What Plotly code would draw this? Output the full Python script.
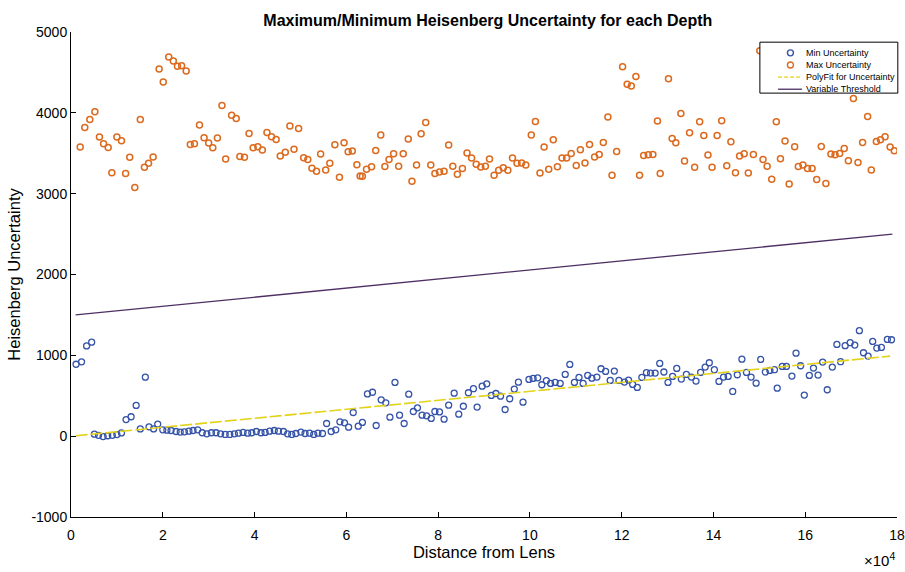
import plotly.graph_objects as go

# Distance from lens, in units of 10^4
min_x = [0.11,0.23,0.34,0.45,0.51,0.6,0.7,0.8,0.9,1.0,1.1,1.2,1.31,1.42,1.51,1.62,1.70,1.8,1.89,
         2.00,2.09,2.18,2.29,2.38,2.47,2.57,2.66,2.76,2.86,2.96,3.06,3.16,3.26,3.36,3.46,3.56,3.65,3.75,3.85,
         3.94,4.04,4.14,4.23,4.33,4.43,4.52,4.63,4.72,4.81,4.9,5.01,5.1,5.2,5.29,5.38,5.48,5.57,5.67,5.77,
         5.86,5.96,6.05,6.15,6.26,
         6.35,6.46,6.57,6.65,6.76,6.86,6.95,7.06,7.16,7.26,7.36,7.46,7.55,7.65,7.75,7.85,7.93,8.03,8.13,8.23,
         8.35,8.45,8.55,8.66,8.77,8.85,8.96,9.06,9.16,9.26,9.36,9.46,9.56,9.66,9.75,9.85,9.98,10.07,10.17,10.26,
         10.36,10.45,10.55,10.66,10.77,10.87,10.97,11.07,11.16,11.26,11.35,11.46,11.55,11.65,11.75,11.84,11.94,
         12.06,12.15,12.24,12.34,12.44,12.54,12.63,12.73,12.83,
         12.92,13.01,13.11,13.2,13.3,13.41,13.52,13.62,13.72,13.82,13.91,14.02,14.12,14.22,14.32,14.42,14.52,
         14.62,14.72,14.82,14.93,15.03,15.13,15.23,15.33,15.39,15.5,15.59,15.71,15.8,15.9,15.98,16.09,16.18,
         16.28,16.38,16.48,16.59,16.69,16.77,16.87,16.98,17.08,17.18,17.27,17.37,17.47,17.56,17.66,17.79,17.88]
min_y = [890,920,1117,1163,25,10,-5,5,10,20,40,205,240,380,90,730,115,90,150,
         79,74,70,58,50,54,62,70,79,42,29,42,42,29,21,21,29,37,46,37,
         42,58,42,46,62,70,62,58,29,21,33,50,33,37,21,37,33,157,58,79,
         178,165,111,293,124,
         170,523,543,132,450,413,235,665,260,157,520,305,351,260,252,219,305,300,210,383,
         532,272,370,537,587,360,619,648,504,528,495,330,463,582,668,421,702,714,722,636,
         686,653,665,653,764,888,665,727,653,752,718,731,834,801,690,805,690,
         669,694,640,603,727,785,781,781,900,
         794,665,739,838,706,764,731,681,789,855,908,822,677,731,739,553,760,
         953,789,731,656,949,793,813,822,594,863,863,743,1027,871,508,752,842,
         756,917,574,855,1135,921,1119,1156,1127,1305,1032,991,1172,1090,1098,1197,1193]

max_x = [0.2,0.3,0.41,0.52,0.62,0.71,0.81,0.89,1.0,1.1,1.19,1.28,1.39,1.51,1.6,1.69,1.79,1.92,2.01,2.13,
         2.23,2.32,2.41,2.51,2.6,2.69,2.8,2.9,3.0,3.09,3.19,3.29,3.37,3.5,3.6,3.68,3.78,3.88,3.97,4.07,
         4.17,4.27,4.37,4.47,4.56,4.67,4.77,4.86,4.96,5.07,5.16,5.25,5.35,5.44,5.55,5.64,5.75,5.85,5.95,6.04,
         6.13,6.23,6.3,
         6.35,6.44,6.55,6.64,6.75,6.84,6.93,7.03,7.14,7.24,7.35,7.43,7.53,7.63,7.73,7.84,7.93,8.03,8.13,8.23,
         8.32,8.42,8.53,8.63,8.73,8.83,8.93,9.03,9.12,9.22,9.32,9.42,9.52,9.62,9.72,9.82,9.91,10.03,10.12,10.22,
         10.31,10.41,10.51,10.6,10.7,10.8,10.9,11.01,11.1,11.2,11.3,11.41,11.51,11.6,11.7,11.79,11.89,12.02,
         12.12,12.21,12.31,12.39,12.48,12.58,12.68,12.78,
         12.84,13.02,13.1,13.18,13.29,13.37,13.48,13.59,13.7,13.79,13.88,13.97,14.08,14.18,14.29,14.38,14.48,
         14.57,14.67,14.76,14.87,15.01,15.08,15.17,15.27,15.37,15.46,15.56,15.65,15.77,15.85,15.95,16.05,16.15,
         16.25,16.35,16.45,16.56,16.65,16.75,16.85,16.94,17.05,17.15,17.25,17.36,17.44,17.55,17.64,17.74,
         17.85,17.94]
max_y = [3577,3819,3917,4012,3700,3618,3572,3260,3700,3655,3248,3449,3075,3917,3326,3375,3453,4543,4382,4690,
         4641,4576,4583,4518,3609,3618,3848,3692,3626,3568,3688,4090,3429,3971,3930,3461,3449,3745,3568,3581,
         3540,3757,3704,3671,3466,3511,3836,3548,3807,3445,3424,3313,3276,3491,3294,3375,3605,3202,3630,3519,
         3528,3359,3219,
         3215,3302,3334,3535,3725,3335,3424,3494,3338,3494,3676,3153,3355,3741,3880,3355,3248,3269,3276,3602,
         3338,3240,3310,3503,3441,3363,3330,3338,3429,3227,3289,3322,3289,3441,3375,3380,3355,3725,3893,3257,
         3577,3301,3667,3334,3441,3441,3498,3350,3544,3380,3609,3454,3486,3634,3947,3227,3523,4571,
         4354,4333,4448,3227,3473,3482,3486,3898,
         3248,4423,3683,3630,3991,3404,3753,3326,3889,3720,3478,3326,3720,3901,3346,3642,3260,
         3466,3494,3257,3486,4768,3424,3338,3178,3889,3433,3651,3121,3581,3335,3355,3310,3310,
         3174,3584,3125,3491,3482,3498,3560,3408,4176,3387,3634,3955,3294,3646,3667,3704,
         3577,3531]

fit_x = [0.1, 17.85]
fit_y = [5, 990]

thr_x = [0.1, 17.9]
thr_y = [1500, 2500]

x_ticks = [0, 2, 4, 6, 8, 10, 12, 14, 16, 18]
y_ticks = [-1000, 0, 1000, 2000, 3000, 4000, 5000]

series_names = ["Min Uncertainty", "Max Uncertainty", "PolyFit for Uncertainty", "Variable Threshold"]

FONT = "Liberation Sans, Arial, sans-serif"
C_MIN = "#3553a8"
C_MAX = "#dc6a1e"
C_FIT = "#e3d21a"
C_THR = "#4e2f63"

fig = go.Figure()
fig.add_trace(go.Scatter(x=min_x, y=min_y, mode="markers", name=series_names[0], showlegend=False,
                         marker=dict(symbol="circle-open", size=6, color=C_MIN,
                                     line=dict(width=1.3, color=C_MIN))))
fig.add_trace(go.Scatter(x=max_x, y=max_y, mode="markers", name=series_names[1], showlegend=False,
                         marker=dict(symbol="circle-open", size=6, color=C_MAX,
                                     line=dict(width=1.5, color=C_MAX))))
fig.add_trace(go.Scatter(x=fit_x, y=fit_y, mode="lines", name=series_names[2], showlegend=False,
                         line=dict(color=C_FIT, width=1.6, dash="12px,3px")))
fig.add_trace(go.Scatter(x=thr_x, y=thr_y, mode="lines", name=series_names[3], showlegend=False,
                         line=dict(color=C_THR, width=1.3)))

fig.update_layout(
    width=905, height=572,
    margin=dict(l=71, r=8, t=32, b=55),
    paper_bgcolor="white", plot_bgcolor="white",
    font=dict(family=FONT, color="black", size=14),
    title=dict(text="<b>Maximum/Minimum Heisenberg Uncertainty for each Depth</b>",
               x=0.539, xref="container", xanchor="center", y=0.965, yanchor="middle", yref="container",
               font=dict(size=16, family=FONT, color="black")),
    showlegend=False,
    xaxis=dict(range=[0, 18], tickvals=x_ticks, ticktext=[str(v) for v in x_ticks],
               showgrid=False, zeroline=False, showline=True, linecolor="black", linewidth=1,
               ticks="inside", ticklen=5, tickcolor="black", automargin=False,
               ticklabelstandoff=5,
               title=dict(text="Distance from Lens", standoff=3, font=dict(size=16.5)),
               tickfont=dict(size=14)),
    yaxis=dict(range=[-1000, 5000], tickvals=y_ticks, ticktext=[str(v) for v in y_ticks],
               showgrid=False, zeroline=False, showline=True, linecolor="black", linewidth=1,
               ticks="inside", ticklen=5, tickcolor="black", automargin=False,
               title=dict(text="Heisenberg Uncertainty", standoff=6, font=dict(size=16.5)),
               tickfont=dict(size=14)),
)

fig.add_annotation(text="×10<sup>4</sup>", xref="paper", yref="paper",
                   x=0.979, y=-0.111, xanchor="center", yanchor="bottom",
                   showarrow=False, font=dict(size=15, family=FONT, color="black"))

# Compact legend box, drawn like the reference
box = dict(x0=0.834, x1=1.001, y0=0.874, y1=0.979)
rows_y = [0.957, 0.932, 0.907, 0.882]
sym_x, line_x0, line_x1, text_x = 0.871, 0.856, 0.885, 0.8875
fig.add_shape(type="rect", xref="paper", yref="paper", **box,
              line=dict(color="black", width=1), fillcolor="white", layer="above")
for yy, col in [(rows_y[0], C_MIN), (rows_y[1], C_MAX)]:
    fig.add_shape(type="circle", xref="paper", yref="paper", xsizemode="pixel", ysizemode="pixel",
                  xanchor=sym_x, yanchor=yy, x0=-3, x1=3, y0=-3, y1=3,
                  line=dict(color=col, width=1.4), layer="above")
fig.add_shape(type="line", xref="paper", yref="paper", x0=line_x0, x1=line_x1,
              y0=rows_y[2], y1=rows_y[2], line=dict(color=C_FIT, width=1.4, dash="4px,2px"), layer="above")
fig.add_shape(type="line", xref="paper", yref="paper", x0=line_x0, x1=line_x1,
              y0=rows_y[3], y1=rows_y[3], line=dict(color=C_THR, width=1.3), layer="above")
for name, yy in zip(series_names, rows_y):
    fig.add_annotation(text=name, xref="paper", yref="paper", x=text_x, y=yy,
                       xanchor="left", yanchor="middle", showarrow=False,
                       font=dict(size=9, family=FONT, color="black"))

fig.write_html("out.html", config={"displayModeBar": False},
               post_script="document.body.style.margin='0px';")
